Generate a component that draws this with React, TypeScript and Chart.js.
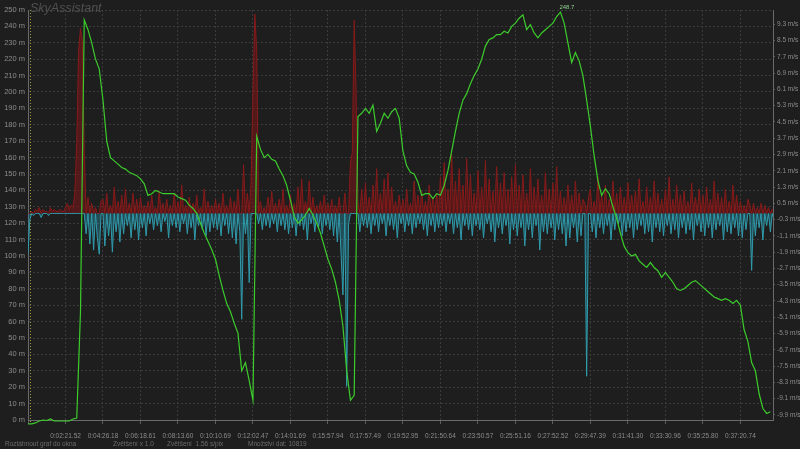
import React, { useEffect, useRef } from 'react';
import { Chart, registerables } from 'chart.js';

Chart.register(...registerables);

// x-axis time labels (one per grid column, first column at the left axis has none)
const timeLabels = [
  '0:02:21.52', '0:04:26.18', '0:06:18.61', '0:08:13.60', '0:10:10.69',
  '0:12:02.47', '0:14:01.69', '0:15:57.94', '0:17:57.49', '0:19:52.95',
  '0:21:50.64', '0:23:50.57', '0:25:51.16', '0:27:52.52', '0:29:47.39',
  '0:31:41.30', '0:33:30.96', '0:35:25.80', '0:37:20.74',
];

// right axis (vertical speed) tick values, m/s
const speedTicks = [
  -9.9, -9.1, -8.3, -7.5, -6.7, -5.9, -5.1, -4.3, -3.5, -2.7, -1.9, -1.1, -0.3,
  0.5, 1.3, 2.1, 2.9, 3.7, 4.5, 5.3, 6.1, 6.9, 7.7, 8.5, 9.3,
];

// altitude in metres, one sample per x unit
const altitude = [
  -2.4, -2.4, -1.8, -0.6, 0, -0.3, 0.6, -0.6, -0.6, -0.6,
  -0.6, -0.6, 0.6, 1.2, 66, 244, 238, 230, 220, 214,
  195, 170, 160, 158, 156, 154, 153, 151, 150, 149,
  147, 144, 137, 138, 140, 139, 138, 138, 138, 138,
  136, 135, 134, 131, 129, 126, 120, 114, 109, 104,
  98, 88, 79, 71, 66, 59, 53, 30, 35, 24,
  12, 173, 165, 160, 162, 159, 158, 153, 149, 143,
  134, 124, 120, 122, 125, 129, 125, 120, 114, 106,
  98, 92, 84, 73, 57, 30, 12, 15, 185, 187,
  190, 187, 192, 176, 181, 187, 184, 188, 190, 184,
  164, 155, 151, 150, 145, 137, 138, 138, 135, 138,
  137, 143, 152, 164, 176, 187, 195, 199, 205, 210,
  214, 220, 228, 232, 233, 235, 235, 237, 236, 240,
  242, 245, 247, 238, 241, 236, 233, 236, 238, 240,
  242, 246, 248.7, 242, 230, 218, 224, 219, 210, 195,
  179, 161, 146, 137, 141, 138, 130, 123, 114, 106,
  102, 100, 101, 97, 95, 93, 96, 93, 91, 87,
  90, 87, 84, 80, 79, 80, 82, 84, 85, 83,
  81, 79, 77, 75, 74, 73, 74, 73, 71, 73,
  70, 55, 48, 35, 30, 16, 7, 4, 5,
];

// vertical speed in m/s, two samples per x unit
const vspeed = [
  -2.0, -0.3, 0.1, -0.1, 0.2, 0.1, 0.3, -0.2, 0.2, 0.1, 0.1, -0.1, 0.3, 0.1, 0.2, 0.1, 0.1, 0.2, 0.1, 0.1,
  0.3, 0.5, 0.2, 0.4, 0.3, 1.0, 3.5, 8.0, 9.1, 8.5, 3.0, -1.0, 0.8, -1.5, 0.5, -1.8, 0.3, -1.2, -2.0, 0.6,
  0.7, -1.6, 1.0, -1.1, 0.4, -1.9, 1.3, -0.9, 0.6, -1.4, 0.9, -1.0, 1.2, -0.6, 0.5, -1.2, 1.0, -0.8, 0.7, -1.3,
  0.8, -0.7, 0.4, -1.1, 0.6, -0.5, 0.9, -0.8, 0.3, -0.6, 1.1, -0.9, 0.5, -0.4, 0.7, -1.2, 0.4, -0.6, 1.0, -0.7,
  0.6, -0.9, 1.4, -0.5, 0.4, -1.0, 0.8, -0.7, 0.5, -1.3, 0.9, -0.6, 0.3, -0.8, 1.2, -1.1, 0.6, -0.9, 0.4, -0.7,
  0.7, -0.8, 0.5, -1.1, 1.0, -0.6, 0.4, -1.0, 0.8, -1.2, 0.6, -1.5, 1.2, -0.9, -5.2, 2.4, -1.0, 1.0, -3.4, 1.5,
  6.0, 9.8, 8.0, -0.5, 0.6, -0.8, 0.3, -0.6, 0.8, -0.7, 1.1, -0.5, 0.5, -0.9, 0.7, -0.6, 1.2, -0.8, 0.4, -1.0,
  0.9, -0.7, 0.5, -1.1, 1.3, -0.6, 1.7, -0.8, 0.6, -1.3, 1.6, -0.5, 0.8, -0.9, 0.4, -0.7, 0.6, -1.0, 0.9, -0.6,
  0.5, -0.8, 0.7, -1.1, 0.4, -1.4, 0.8, -2.0, -4.0, 1.0, -8.5, -0.5, 2.5, 3.0, 9.5, 6.0, 0.6, -0.9, 1.2, -0.6,
  1.5, -0.7, 0.8, -1.0, 1.4, -0.6, 2.2, -0.9, 1.0, -0.5, 1.7, -1.1, 2.0, -0.6, 1.3, -0.8, 0.6, -1.2, 0.9, -0.5,
  0.7, -0.9, 1.2, -0.6, 0.5, -1.0, 1.6, -0.7, 0.9, -0.5, 1.1, -0.8, 0.6, -1.1, 1.4, -0.6, 0.8, -0.9, 1.0, -0.7,
  1.8, -0.6, 2.5, -0.9, 1.2, -0.5, 2.9, -1.0, 1.6, -0.7, 2.2, -1.3, 1.4, -0.6, 2.7, -0.8, 1.9, -1.1, 1.0, -0.6,
  2.1, -0.8, 1.3, -1.2, 2.6, -0.5, 1.7, -0.9, 1.1, -1.4, 2.3, -0.7, 1.5, -1.0, 2.0, -0.6, 1.2, -1.5, 1.8, -0.8,
  2.4, -1.1, 1.4, -0.7, 1.9, -1.6, 1.0, -0.8, 2.2, -1.2, 1.3, -0.6, 1.7, -1.8, 0.9, -0.9, 2.0, -1.0, 1.2, -0.7,
  1.5, -1.3, 2.3, -0.8, 1.1, -1.0, 0.8, -1.6, 1.4, -1.2, 0.9, -0.7, 1.6, -1.4, 1.0, -1.1, 0.7, 0.5, -8.0, 0.8,
  1.2, -0.9, 0.6, -1.2, 1.8, -0.7, 0.9, -1.0, 1.4, -0.6, 0.7, -1.3, 1.6, -0.8, 1.0, -0.5, 1.3, -1.1, 0.8, -0.9,
  1.5, -0.7, 0.9, -1.2, 1.1, -0.8, 1.7, -0.6, 0.6, -1.0, 1.3, -0.9, 0.8, -1.4, 1.6, -0.7, 1.0, -0.9, 0.7, -1.1,
  1.2, -0.6, 1.8, -1.0, 0.7, -0.8, 1.4, -1.2, 0.9, -0.7, 1.1, -1.0, 0.6, -0.8, 1.5, -1.3, 0.8, -0.6, 1.2, -0.9,
  0.9, -1.1, 1.3, -0.7, 0.7, -1.2, 1.6, -0.8, 1.0, -0.6, 0.8, -1.3, 1.2, -0.9, 0.6, -1.0, 1.4, -0.7, 0.9, -1.1,
  0.6, -1.2, 0.4, -0.8, 0.7, 0.4, -2.8, 0.5, -1.1, 0.3, -0.7, 0.5, -1.3, 0.4, -0.6, 0.3, -0.9, 0.2, -0.4, 0.1,
];

const footerTexts = [
  'Roztáhnout graf do okna',
  'Zvětšení x 1.0',
  'Zvětšení  1.56 s/pix',
  'Množství dat: 10819',
];

const ALT_STEP = 1;
const VS_STEP = 0.5;
const X_MAX = 198.7;
const TICK_STEP = 10;

const FONT = '"Liberation Sans", Arial, sans-serif';

export default function App() {
  const ref = useRef<HTMLCanvasElement>(null);

  useEffect(() => {
    if (!ref.current) return;
    Chart.defaults.font.family = FONT;
    const altPts = altitude.map((y, i) => ({ x: i * ALT_STEP, y }));
    const upPts = vspeed.map((v, i) => ({ x: i * VS_STEP, y: Math.max(v, 0) }));
    const downPts = vspeed.map((v, i) => ({ x: i * VS_STEP, y: Math.min(v, 0) }));
    const grid = '#3b3b3b';
    const axisCol = '#6a6a6a';
    const labelCol = '#8c8c8c';

    const extras = {
      id: 'extras',
      beforeDatasetsDraw(chart: any) {
        const { ctx, chartArea } = chart;
        ctx.save();
        ctx.strokeStyle = '#9c9a3c';
        ctx.lineWidth = 1;
        ctx.setLineDash([1, 2]);
        ctx.beginPath();
        ctx.moveTo(chartArea.left + 2.5, chartArea.top);
        ctx.lineTo(chartArea.left + 2.5, chartArea.bottom + 2);
        ctx.stroke();
        ctx.restore();
      },
      afterDatasetsDraw(chart: any) {
        const { ctx } = chart;
        let mi = 0;
        altitude.forEach((v, i) => { if (v > altitude[mi]) mi = i; });
        const px = chart.scales.x.getPixelForValue(mi * ALT_STEP);
        const py = chart.scales.y.getPixelForValue(altitude[mi]);
        ctx.save();
        ctx.fillStyle = '#8fcf8f';
        ctx.font = `6px ${FONT}`;
        ctx.textAlign = 'left';
        ctx.textBaseline = 'alphabetic';
        ctx.fillText(altitude[mi].toFixed(1), px - 1, py - 3);
        ctx.restore();
      },
    };

    const chart = new Chart(ref.current, {
      type: 'line',
      data: {
        datasets: [
          {
            label: 'Výška',
            data: altPts,
            yAxisID: 'y',
            borderColor: '#3ccc2c',
            borderWidth: 1.2,
            pointRadius: 0,
            tension: 0,
            order: 0,
            clip: false,
          },
          {
            label: 'Stoupání',
            data: upPts,
            yAxisID: 'v',
            borderColor: 'rgba(135,26,26,1)',
            backgroundColor: 'rgba(115,22,22,0.6)',
            fill: { target: { value: 0 } },
            borderWidth: 1,
            pointRadius: 0,
            tension: 0,
            order: 2,
          },
          {
            label: 'Klesání',
            data: downPts,
            yAxisID: 'v',
            borderColor: 'rgba(48,155,172,1)',
            backgroundColor: 'rgba(40,135,155,0.45)',
            fill: { target: { value: 0 } },
            borderWidth: 1,
            pointRadius: 0,
            tension: 0,
            order: 1,
          },
        ],
      } as any,
      options: {
        responsive: false,
        animation: false,
        layout: { padding: { top: 10, left: 0, right: 0, bottom: 0 } },
        plugins: { legend: { display: false }, tooltip: { enabled: false } },
        scales: {
          x: {
            type: 'linear',
            min: 0,
            max: X_MAX,
            afterBuildTicks: (s: any) => {
              s.ticks = [0, ...timeLabels].map((_, i) => ({ value: i * TICK_STEP }));
            },
            ticks: {
              autoSkip: false,
              maxRotation: 0,
              color: labelCol,
              font: { size: 6.5 },
              padding: 8,
              callback: (v: any) => {
                const i = Math.round(v / TICK_STEP);
                return i === 0 ? '' : timeLabels[i - 1] ?? '';
              },
            },
            grid: { color: grid, tickColor: '#5c5c5c', tickLength: 4 },
            border: { display: true, color: axisCol, dash: [2, 2] },
            afterFit: (s: any) => { s.height = 29; },
          },
          y: {
            position: 'left',
            min: 0,
            max: 250,
            ticks: {
              stepSize: 10,
              autoSkip: false,
              color: labelCol,
              font: { size: 7.5 },
              padding: 3,
              callback: (v: any) => `${v} m`,
            },
            grid: { color: grid, drawTicks: false },
            border: { display: true, color: axisCol, dash: [2, 2] },
            afterFit: (s: any) => { s.width = 28; },
          },
          v: {
            position: 'right',
            min: -10.15,
            max: 10.0,
            afterBuildTicks: (s: any) => {
              s.ticks = speedTicks.map((value) => ({ value }));
            },
            ticks: {
              autoSkip: false,
              color: labelCol,
              font: { size: 6.5 },
              padding: 2,
              callback: (v: any) => `${Number(v).toFixed(1)} m/s`,
            },
            grid: { drawOnChartArea: false, tickLength: 2, color: '#5c5c5c' },
            border: { display: true, color: axisCol },
            afterFit: (s: any) => { s.width = 27; },
          },
        },
      } as any,
      plugins: [extras],
    });
    return () => chart.destroy();
  }, []);

  const footerX = [5, 113, 167, 248];

  return (
    <div
      style={{
        position: 'absolute',
        left: 0,
        top: 0,
        width: 800,
        height: 449,
        background: '#1e1e1e',
        overflow: 'hidden',
        fontFamily: FONT,
      }}
    >
      <canvas ref={ref} width={800} height={449} style={{ position: 'absolute', left: 0, top: 0 }} />
      <div
        style={{
          position: 'absolute',
          left: 30,
          top: 1,
          fontSize: 12.5,
          fontStyle: 'italic',
          color: '#505050',
          lineHeight: '14px',
        }}
      >
        SkyAssistant
      </div>
      {footerTexts.map((t, i) => (
        <div
          key={i}
          style={{
            position: 'absolute',
            left: footerX[i],
            top: 440,
            fontSize: 6.5,
            lineHeight: '8px',
            color: '#6c6c6c',
            whiteSpace: 'pre',
          }}
        >
          {t}
        </div>
      ))}
    </div>
  );
}
